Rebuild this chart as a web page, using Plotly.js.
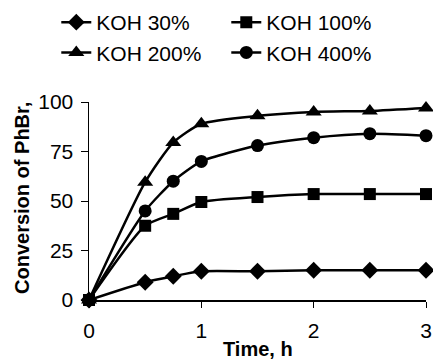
<!DOCTYPE html>
<html><head><meta charset="utf-8">
<script src="https://cdn.plot.ly/plotly-3.0.1.min.js"></script>
<style>html,body{margin:0;padding:0;background:#fff}#c{width:433px;height:362px}</style>
</head><body><div id="c"></div>
<script>
var time = [0, 0.5, 0.75, 1, 1.5, 2, 2.5, 3];
var koh30 = [0, 9, 12, 14.5, 14.5, 15, 15, 15];
var koh100 = [0, 37.5, 43.5, 49.5, 52, 53.5, 53.5, 53.5];
var koh200 = [0, 59.5, 79.5, 89, 93, 95, 95.5, 97];
var koh400 = [0, 45, 60, 70, 78, 82, 84, 83];
var names = ['KOH 30%', 'KOH 100%', 'KOH 200%', 'KOH 400%'];
var xTitle = 'Time, h';
var yTitle = 'Conversion of PhBr,';
var series = [koh30, koh100, koh200, koh400];
var symbols = ['diamond', 'square', 'triangle-up', 'circle'];
var sizes = [13, 12, 14, 13];
var traces = series.map(function(s, i){
  return {x: time, y: s, name: names[i], type: 'scatter', mode: 'lines+markers', cliponaxis: false,
    line: {color: '#000', width: 2.5, shape: 'spline', smoothing: 0.6},
    marker: {symbol: symbols[i], size: sizes[i], color: '#000'}};
});
var layout = {
  width: 433, height: 362,
  margin: {l: 89, r: 7, t: 102, b: 62, autoexpand: false},
  paper_bgcolor: '#fff', plot_bgcolor: '#fff',
  font: {family: 'Arial, Liberation Sans, sans-serif', color: '#000'},
  showlegend: true,
  legend: {orientation: 'h', xref: 'container', x: 0.13, xanchor: 'left', y: 1.505, yanchor: 'top', yref: 'paper',
    entrywidth: 125, font: {size: 21, family: 'Liberation Sans Narrow, Arial, sans-serif'}, tracegroupgap: 0},
  xaxis: {range: [0, 3], tickvals: [0, 1, 2, 3], showgrid: false, zeroline: false, showline: true, automargin: false,
    linecolor: '#000', linewidth: 1.5, ticks: 'outside', ticklen: 6, tickcolor: '#000', ticklabelstandoff: 5,
    tickfont: {size: 21}},
  yaxis: {range: [0, 100], tickvals: [0, 25, 50, 75, 100], showgrid: false, zeroline: false, showline: true, automargin: false,
    linecolor: '#000', linewidth: 1.5, ticks: 'outside', ticklen: 7, tickcolor: '#000', ticklabelstandoff: 3,
    tickfont: {size: 21}},
  annotations: [
    {text: '<b>' + xTitle + '</b>', xref: 'paper', yref: 'paper', x: 0.5, y: -0.245, xanchor: 'center', yanchor: 'middle',
     showarrow: false, font: {size: 20}},
    {text: '<b>' + yTitle + '</b>', xref: 'paper', yref: 'paper', x: -0.199, y: 0.515, xanchor: 'center', yanchor: 'middle',
     textangle: -90, showarrow: false, font: {size: 20}}
  ]
};
Plotly.newPlot('c', traces, layout, {displayModeBar: false, staticPlot: true});
</script></body></html>
